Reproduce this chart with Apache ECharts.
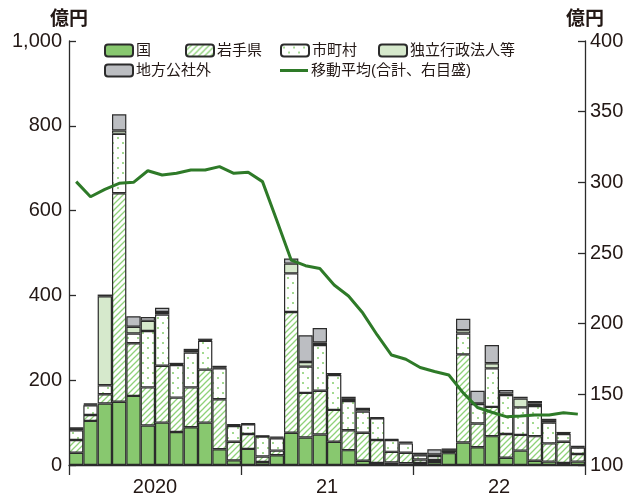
<!DOCTYPE html>
<html>
<head>
<meta charset="utf-8">
<script src="https://cdn.jsdelivr.net/npm/echarts@6/dist/echarts.min.js"></script>
<style>
html,body{margin:0;padding:0;background:#fff;}
#chart{width:637px;height:497px;}
</style>
</head>
<body>
<div id="chart"></div>
<script>
// ---- data ----
const months = [];
for (let y = 2020; y <= 2022; y++) { for (let m = 1; m <= 12; m++) { months.push(y + '年' + m + '月'); } }
const yearLabels = ['2020', '21', '22'];

const kuni = [29,104,145,149,163,93,100,78,89,100,37,11, 38,7,23,76,65,72,55,35,10,5,6,4, 5,7,28,53,42,68,17,34,10,8,5,8];
const iwateken = [30,14,22,492,124,90,134,81,94,125,118,44, 35,13,11,285,105,103,75,47,66,54,25,25, 8,5,2,208,56,69,56,37,58,43,50,18];
const shichoson = [23,23,21,140,23,133,121,77,82,68,73,37, 23,47,29,91,62,108,82,69,50,51,28,22, 10,9,5,49,46,91,92,65,71,49,18,15];
const dokuritsu = [3,2,210,8,16,24,6,2,4,2,2,2, 1,1,2,23,11,6,2,5,6,1,1,2, 2,4,1,8,1,12,4,21,6,4,2,2];
const kosha = [4,2,4,38,25,9,10,3,5,3,4,2, 1,1,2,12,63,34,3,5,3,1,1,2, 4,12,3,27,30,43,8,4,6,5,3,2];
const movingAvg = [300.5,289.8,295,299.3,300,308.2,305.2,306.4,308.7,308.7,311.1,306.4, 307.1,300.5,273,245,241,239,227.4,219.6,207.5,192,177.8,174.8, 169,166.2,163.7,151,140.7,137.3,134.2,134.7,135.4,135.4,137,136];

const leftTicks = {min: 0, max: 1000, interval: 200};
const rightTicks = {min: 100, max: 400, interval: 50};

// ---- patterns ----
function hatchPattern() {
  const c = document.createElement('canvas');
  c.width = 6; c.height = 6;
  const g = c.getContext('2d');
  g.fillStyle = '#ffffff'; g.fillRect(0, 0, 6, 6);
  g.strokeStyle = '#8ed178'; g.lineWidth = 1.3;
  g.beginPath();
  g.moveTo(-1, 7); g.lineTo(7, -1);
  g.moveTo(-1, 1); g.lineTo(1, -1);
  g.moveTo(5, 7); g.lineTo(7, 5);
  g.stroke();
  return {image: c, repeat: 'repeat'};
}
function dotPattern() {
  const c = document.createElement('canvas');
  c.width = 10; c.height = 10;
  const g = c.getContext('2d');
  g.fillStyle = '#ffffff'; g.fillRect(0, 0, 10, 10);
  g.fillStyle = '#a3da90';
  g.fillRect(2, 2, 2, 2);
  g.fillRect(7, 7, 2, 2);
  return {image: c, repeat: 'repeat'};
}

const FONT = "'Liberation Sans', 'Noto Sans CJK JP', sans-serif";
const TXT = '#231815';
const border = {borderColor: '#2b2b2b', borderWidth: 1.2};

function barSeries(name, data, color) {
  return {
    name: name, type: 'bar', stack: 'total', data: data,
    xAxisIndex: 0, yAxisIndex: 0,
    barCategoryGap: '0%',
    itemStyle: Object.assign({color: color}, border),
    emphasis: {disabled: true},
    animation: false
  };
}

function legendAt(item, left, top, h) {
  return {
    data: [item], left: left, top: top, padding: 0,
    itemWidth: 28, itemHeight: h || 12, itemGap: 0,
    selectedMode: false,
    textStyle: {fontSize: 15, color: TXT, fontFamily: FONT, padding: [0, 0, 0, -2]}
  };
}

const chart = echarts.init(document.getElementById('chart'), null, {renderer: 'canvas'});
chart.setOption({
  animation: false,
  backgroundColor: '#ffffff',
  textStyle: {fontFamily: FONT},
  grid: {left: 69, right: 52, top: 41, bottom: 32, containLabel: false},
  legend: [
    legendAt('国', 104, 43),
    legendAt('岩手県', 185, 43),
    legendAt('市町村', 280, 43),
    legendAt('独立行政法人等', 378, 43),
    legendAt('地方公社外', 104, 63),
    legendAt({name: '移動平均(合計、右目盛)', icon: 'rect'}, 280, 63, 3)
  ],
  xAxis: [
    {
      type: 'category', data: months, position: 'bottom', boundaryGap: true,
      axisLine: {show: true, lineStyle: {color: '#2b2b2b', width: 1.3}},
      axisTick: {show: false}, axisLabel: {show: false}, splitLine: {show: false}
    },
    {
      type: 'category', data: yearLabels, position: 'bottom', boundaryGap: true,
      axisLine: {show: false},
      axisTick: {show: true, inside: false, length: 10, interval: 0, lineStyle: {color: '#2b2b2b', width: 1.3}},
      axisLabel: {show: true, fontSize: 20, color: TXT, margin: 12, fontFamily: FONT},
      splitLine: {show: false}
    }
  ],
  yAxis: [
    {
      type: 'value', position: 'left', min: leftTicks.min, max: leftTicks.max, interval: leftTicks.interval,
      name: '億円', nameLocation: 'end', nameGap: 12,
      nameTextStyle: {fontSize: 19, color: TXT, align: 'center', fontFamily: FONT, fontWeight: 'bold'},
      axisLine: {show: true, lineStyle: {color: '#2b2b2b', width: 1.3}},
      axisTick: {show: true, inside: true, length: 7, lineStyle: {color: '#2b2b2b', width: 1.3}},
      axisLabel: {fontSize: 20, color: TXT, margin: 7, fontFamily: FONT,
        formatter: v => v.toLocaleString('en-US')},
      splitLine: {show: false}
    },
    {
      type: 'value', position: 'right', min: rightTicks.min, max: rightTicks.max, interval: rightTicks.interval,
      name: '億円', nameLocation: 'end', nameGap: 12,
      nameTextStyle: {fontSize: 19, color: TXT, align: 'center', fontFamily: FONT, fontWeight: 'bold'},
      axisLine: {show: true, lineStyle: {color: '#2b2b2b', width: 1.3}},
      axisTick: {show: true, inside: true, length: 7, lineStyle: {color: '#2b2b2b', width: 1.3}},
      axisLabel: {fontSize: 20, color: TXT, margin: 5, fontFamily: FONT},
      splitLine: {show: false}
    }
  ],
  series: [
    barSeries('国', kuni, '#88c86f'),
    barSeries('岩手県', iwateken, hatchPattern()),
    barSeries('市町村', shichoson, dotPattern()),
    barSeries('独立行政法人等', dokuritsu, '#d6e9cc'),
    barSeries('地方公社外', kosha, '#bcbec2'),
    {
      name: '移動平均(合計、右目盛)', type: 'line', data: movingAvg,
      xAxisIndex: 0, yAxisIndex: 1,
      symbol: 'none', showSymbol: false, smooth: false,
      lineStyle: {color: '#2e7a28', width: 3},
      itemStyle: {color: '#2e7a28'},
      z: 5, animation: false
    }
  ]
});
</script>
</body>
</html>
